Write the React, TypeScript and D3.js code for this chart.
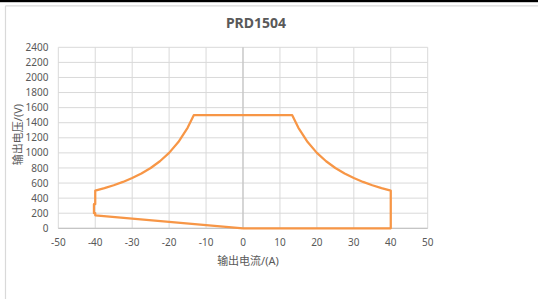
import React from "react";
import * as d3 from "d3";

const title = "PRD1504";
const xTitle = "输出电流/(A)";
const yTitle = "输出电压/(V)";
const xTicks = [-50, -40, -30, -20, -10, 0, 10, 20, 30, 40, 50];
const yTicks = [0, 200, 400, 600, 800, 1000, 1200, 1400, 1600, 1800, 2000, 2200, 2400];

// operating boundary, traced in drawing order
const currentA = [
  0, 40, 40, 37.5, 35, 32.5, 30, 27.5, 25, 22.5, 20, 17.5, 15, 13.33,
  -13.33, -15, -17.5, -20, -22.5, -25, -27.5, -30, -32.5, -35, -37.5, -40,
  -40, -40.35, -40.35, -40, -40, 0,
];
const voltageV = [
  0, 0, 500, 533, 571, 615, 667, 727, 800, 889, 1000, 1143, 1333, 1500,
  1500, 1333, 1143, 1000, 889, 800, 727, 667, 615, 571, 533, 500,
  320, 320, 200, 200, 172, 0,
];

const W = 538;
const H = 299;
const left = 58.3;
const right = 427.7;
const top = 47.3;
const bottom = 228.3;

export default function App() {
  const x = d3.scaleLinear().domain([-50, 50]).range([left, right]);
  const y = d3.scaleLinear().domain([0, 2400]).range([bottom, top]);
  const pts: [number, number][] = currentA.map((c, i) => [c, voltageV[i]]);
  const line = d3
    .line<[number, number]>()
    .x((d) => x(d[0]))
    .y((d) => y(d[1]));
  const txt = "#595959";
  const font = "'Noto Sans', 'Noto Sans CJK SC', sans-serif";
  return (
    <svg
      width={W}
      height={H}
      style={{ position: "absolute", left: 0, top: 0, background: "#fff" }}
      fontFamily={font}
    >
      <rect x={0} y={0} width={W} height={2.2} fill="#000" />
      <line x1={5.5} x2={W} y1={5.8} y2={5.8} stroke="#d9d9d9" strokeWidth={1.2} />
      <line x1={5.5} x2={5.5} y1={5.8} y2={H} stroke="#d9d9d9" strokeWidth={1.2} />

      <text x={256} y={28} textAnchor="middle" fontSize={14} fontWeight="bold" fill={txt}>
        {title}
      </text>

      {yTicks.map((t) => (
        <line key={"gy" + t} x1={left} x2={right} y1={y(t)} y2={y(t)} stroke="#d9d9d9" strokeWidth={1} />
      ))}
      {xTicks.map((t) => (
        <line key={"gx" + t} x1={x(t)} x2={x(t)} y1={top} y2={bottom} stroke="#d9d9d9" strokeWidth={1} />
      ))}
      <line x1={x(0)} x2={x(0)} y1={top} y2={bottom} stroke="#bfbfbf" strokeWidth={1} />
      <line x1={left} x2={right} y1={y(0)} y2={y(0)} stroke="#bfbfbf" strokeWidth={1} />

      {yTicks.map((t) => (
        <text key={"ly" + t} x={48.5} y={y(t) + 3.6} textAnchor="end" fontSize={10} fill={txt}>
          {t}
        </text>
      ))}
      {xTicks.map((t) => (
        <text key={"lx" + t} x={x(t)} y={245.5} textAnchor="middle" fontSize={10} fill={txt}>
          {t}
        </text>
      ))}

      <text x={248} y={265} textAnchor="middle" fontSize={11} fill={txt}>
        {xTitle}
      </text>
      <text
        transform={`translate(21.5,134.5) rotate(-90)`}
        textAnchor="middle"
        fontSize={11}
        fill={txt}
      >
        {yTitle}
      </text>

      <path d={line(pts) || ""} fill="none" stroke="#F79646" strokeWidth={2.25} strokeLinejoin="round" />
    </svg>
  );
}
